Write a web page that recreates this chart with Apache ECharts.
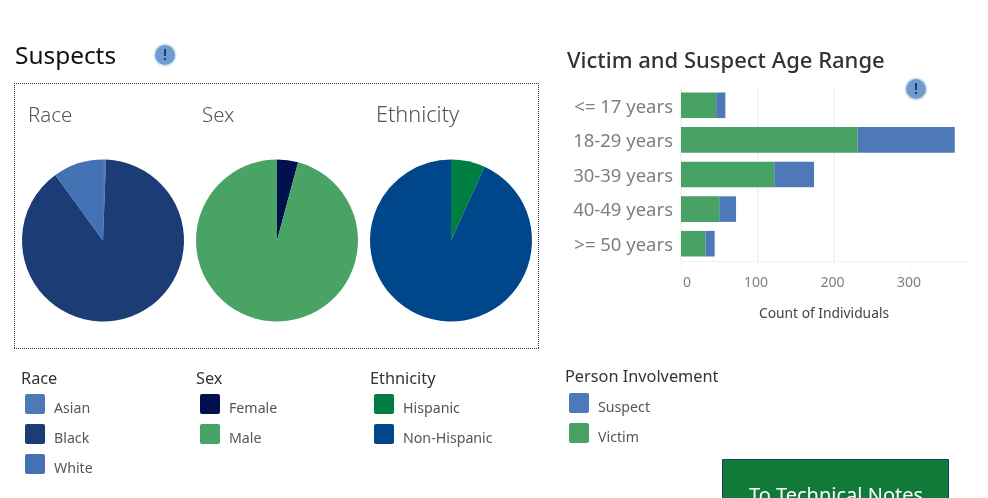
<!DOCTYPE html>
<html><head><meta charset="utf-8">
<style>html,body{margin:0;padding:0;background:#fff;overflow:hidden}#c{width:988px;height:498px}</style>
<script src="https://cdn.jsdelivr.net/npm/echarts@6/dist/echarts.min.js"></script></head>
<body><div id="c"></div>
<script>
const raceNames=['Asian','Black','White'];
const raceValues=[0.6,89.4,10];
const raceColors=['#4e79b8','#1b3c75','#4471b4'];
const sexNames=['Female','Male'];
const sexValues=[4.2,95.8];
const sexColors=['#000f4d','#49a365'];
const ethNames=['Hispanic','Non-Hispanic'];
const ethValues=[6.8,93.2];
const ethColors=['#007d40','#00468b'];
const ageLabels=['<= 17 years','18-29 years','30-39 years','40-49 years','>= 50 years'];
const victim=[46,231,122,50,32];
const suspect=[12,127,52,22,12];
const axisTicks=[0,100,200,300];
const FONT='"Noto Sans","Open Sans",sans-serif';
const SWATCH='path://M2 0H18Q20 0 20 2V18Q20 20 18 20H2Q0 20 0 18V2Q0 0 2 0Z';

const chart=echarts.init(document.getElementById('c'),null,{renderer:'canvas'});
function pie(names,values,colors,cx){
  return {type:'pie',center:[cx,240.5],radius:[0,81],startAngle:90,clockwise:true,animation:false,silent:true,
    label:{show:false},labelLine:{show:false},
    data:names.map((n,i)=>({name:n,value:values[i],itemStyle:{color:colors[i]}}))};
}
function legend(names,left,top){
  return {orient:'vertical',left:left,top:top,padding:0,icon:SWATCH,itemWidth:20,itemHeight:20,itemGap:7,selectedMode:false,
    itemStyle:{borderWidth:0},formatter:'{t|{name}}',
    data:names,textStyle:{fontFamily:FONT,fontSize:14.2,color:'#555',
      rich:{t:{fontFamily:FONT,fontSize:14.2,lineHeight:14,color:'#555',padding:[9,0,0,4]}}}};
}
function txt(x,y,s,size,color,weight){
  return {type:'text',silent:true,z:50,style:{x:x,y:y,text:s,font:(weight||400)+' '+size+'px '+FONT,fill:color,textVerticalAlign:'middle'}};
}
function dotted(x1,y1,x2,y2){
  return {type:'line',silent:true,shape:{x1:x1,y1:y1,x2:x2,y2:y2},style:{stroke:'#333',lineWidth:1,lineDash:[1,1]}};
}
function icon(cx,cy){
  return {type:'group',silent:true,z:100,children:[
    {type:'circle',z:100,shape:{cx:cx,cy:cy,r:11.5},style:{fill:'#d6e6f3'}},
    {type:'circle',z:101,shape:{cx:cx,cy:cy,r:10},style:{fill:'#6f9bcf'}},
    {type:'rect',z:102,shape:{x:cx-1,y:cy-6,width:2,height:7},style:{fill:'#1b3c75'}},
    {type:'rect',z:102,shape:{x:cx-1,y:cy+3,width:2,height:2},style:{fill:'#1b3c75'}}]};
}
chart.setOption({
  animation:false,
  backgroundColor:'#fff',
  color:['#49a365','#4e79b8'],
  grid:{left:681,top:88,width:286,height:173,containLabel:false},
  xAxis:{type:'value',min:0,max:374,interval:100,position:'bottom',
    axisLine:{show:true,onZero:false,lineStyle:{color:'#f2f2f2',width:1}},
    axisTick:{show:true,length:7,lineStyle:{color:'#f2f2f2'},customValues:axisTicks},
    splitLine:{show:true,showMaxLine:false,lineStyle:{color:'#f2f2f2',width:1.5}},
    axisLabel:{color:'#7f7f7f',fontFamily:FONT,fontSize:14,margin:15,align:'center',customValues:axisTicks,
      padding:[0,3,0,0],alignMinLabel:'left',
      formatter:v=>v===0?'{z|0}':String(v),
      rich:{z:{color:'#7f7f7f',fontFamily:FONT,fontSize:14,padding:[0,0,0,2]}}},
    name:'Count of Individuals',nameLocation:'middle',nameGap:46,
    nameTextStyle:{color:'#444',fontFamily:FONT,fontSize:13.8}},
  yAxis:{type:'category',inverse:true,data:ageLabels,
    axisLine:{show:true,lineStyle:{color:'#f2f2f2'}},axisTick:{show:false},
    axisLabel:{color:'#7f7f7f',fontFamily:FONT,fontSize:18.5,margin:8,formatter:'{t|{value}}',
      rich:{t:{color:'#7f7f7f',fontFamily:FONT,fontSize:18.5,padding:[4,0,0,0]}}}},
  legend:[
    legend(raceNames,25,392.5),
    legend(sexNames,200,392.5),
    legend(ethNames,374,392.5),
    legend(['Suspect','Victim'],569,391.5)
  ],
  series:[
    pie(raceNames,raceValues,raceColors,103),
    pie(sexNames,sexValues,sexColors,277),
    pie(ethNames,ethValues,ethColors,451),
    {name:'Victim',type:'bar',stack:'a',barWidth:'74%',data:victim,silent:true,
      itemStyle:{color:'#49a365',decal:{symbol:'rect',symbolSize:1,dashArrayX:[1,2],dashArrayY:[1,2],rotation:-0.785,color:'rgba(30,110,60,0.22)'}}},
    {name:'Suspect',type:'bar',stack:'a',barWidth:'74%',data:suspect,silent:true,
      itemStyle:{color:'#4e79b8'}}
  ],
  graphic:[
    dotted(14,83.5,539,83.5),dotted(14,348.5,539,348.5),dotted(14.5,83,14.5,349),dotted(538.5,83,538.5,349),
    txt(15,57,'Suspects',24.4,'#111'),
    icon(165,55),
    icon(916,89),
    txt(567,62,'Victim and Suspect Age Range',22,'#333',500),
    txt(28,116,'Race',20.5,'#555',300),
    txt(202,116,'Sex',20.5,'#555',300),
    txt(376,116,'Ethnicity',21.7,'#555',300),
    txt(21,379,'Race',16.3,'#333'),
    txt(196,379,'Sex',16.3,'#333'),
    txt(370,379,'Ethnicity',16.3,'#333'),
    txt(565,377,'Person Involvement',16.3,'#333'),
    {type:'rect',silent:true,shape:{x:722.5,y:459.5,width:226,height:50},style:{fill:'#117a38',stroke:'#1b3c75',lineWidth:1}},
    txt(749,496,'To Technical Notes',20,'#fff')
  ]
});
</script></body></html>
